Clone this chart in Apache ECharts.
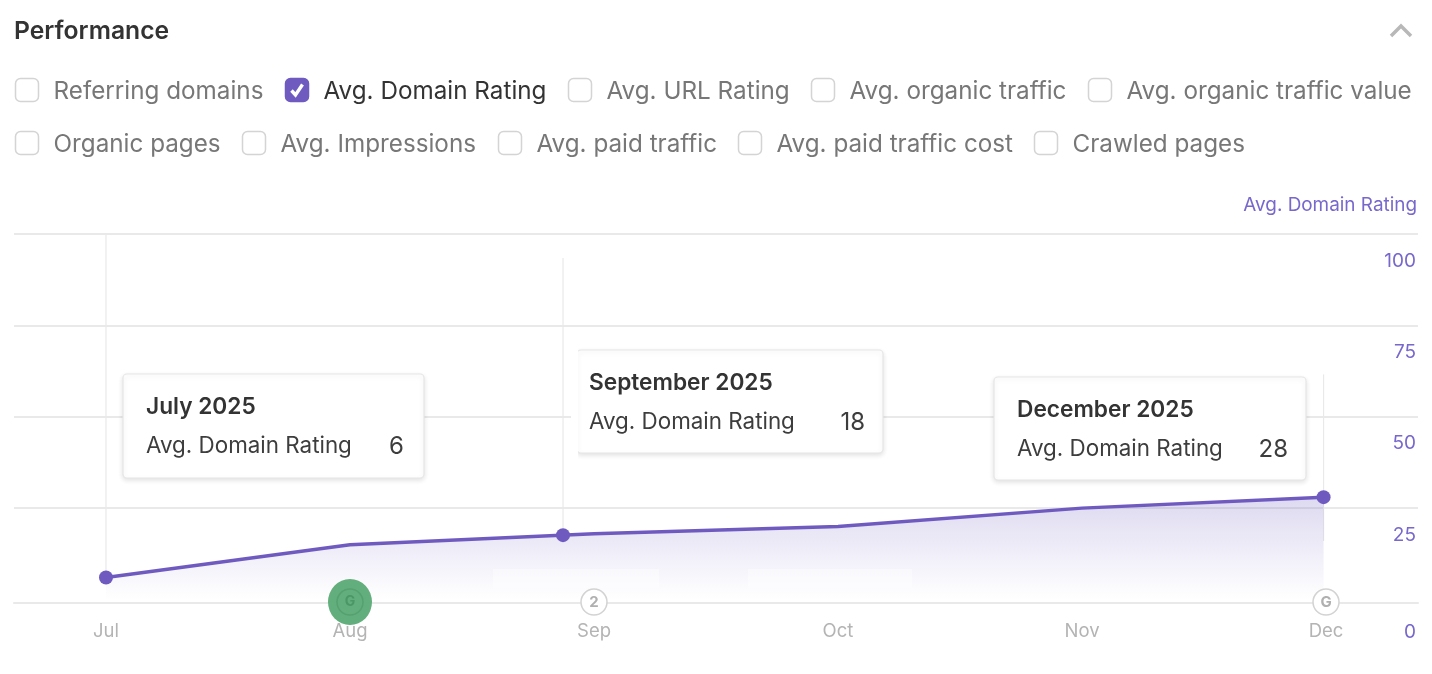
<!DOCTYPE html>
<html><head><meta charset="utf-8">
<style>html,body{margin:0;padding:0;background:#fff}#c{width:1432px;height:674px}</style>
<script src="https://cdn.jsdelivr.net/npm/echarts@6/dist/echarts.min.js"></script>
</head><body><div id="c"></div>
<script>
const months = ['Jul','Aug','Sep','Oct','Nov','Dec'];
const monthPos = [0,1,2,3,4,4.99];
const rating = [6,15,18,20,25,28];
const yTicks = [0,25,50,75,100];
const pinX = [0,1.873,4.99];
const pinY = [6,17.6,28];
const pinTop = [100,93.4,61.6];
const pinBottom = [6,17.6,16];
const cardTitles = ['July 2025','September 2025','December 2025'];
const cardValues = ['6','18','28'];
const eventX = [1,2,5];
const eventText = ['G','2','G'];
const filtersRow1 = ['Referring domains','Avg. Domain Rating','Avg. URL Rating','Avg. organic traffic','Avg. organic traffic value'];
const filtersRow2 = ['Organic pages','Avg. Impressions','Avg. paid traffic','Avg. paid traffic cost','Crawled pages'];
const checked = 'Avg. Domain Rating';
const metric = 'Avg. Domain Rating';

const PURPLE='#6f5bc0', LABEL='#7768cc', FONT='Inter', GRID='#e9e9e9';
const boxX1=[15,285,568,811,1088], boxX2=[15,242,498,738,1034];
const cardBox=[[123,374,301,104],[577,350,306,103],[994,377,312,103]];
const g=[];
function txt(x,y,t,o){return {type:'text',z:50,x,y,style:Object.assign({text:t,fill:'#333',font:'400 23px '+FONT,textVerticalAlign:'middle'},o||{})};}
function row(names,xs,cy){names.forEach((n,i)=>{
  const on=n===checked;
  g.push({type:'rect',z:50,shape:{x:xs[i]+.5,y:cy-11.5,width:23,height:23,r:5},style:{fill:on?PURPLE:'#fff',stroke:on?PURPLE:'#d4d4d4',lineWidth:1.5}});
  if(on)g.push({type:'polyline',z:51,shape:{points:[[xs[i]+6.5,cy+.5],[xs[i]+10.5,cy+5],[xs[i]+17.5,cy-5.5]]},style:{stroke:'#fff',lineWidth:3.4,fill:null}});
  g.push(txt(xs[i]+38.5,cy+1.5,n,{font:'400 24.25px '+FONT,fill:on?'#333':'#777'}));
});}
g.push(txt(14,31.5,'Performance',{font:'600 24.7px '+FONT,fill:'#333'}));
g.push({type:'polyline',z:50,shape:{points:[[1391,36],[1401,26],[1411,36]]},style:{stroke:'#b8b8b8',lineWidth:3.5,fill:null}});
row(filtersRow1,boxX1,90);row(filtersRow2,boxX2,143);
g.push(txt(1417,205,metric,{font:'400 18.9px '+FONT,fill:LABEL,textAlign:'right'}));
cardBox.forEach((b,i)=>{
  g.push({type:'rect',z:40,shape:{x:b[0],y:b[1],width:b[2],height:b[3],r:4},style:{fill:'#fff',stroke:'#e6e6e6',lineWidth:1.2,shadowBlur:5,shadowColor:'rgba(0,0,0,.11)',shadowOffsetY:2}});
  g.push(txt(b[0]+(i==1?12:23),b[1]+33.5,cardTitles[i],{font:'600 22.7px '+FONT,fill:'#333'}));
  g.push(txt(b[0]+(i==1?12:23),b[1]+72.5,metric,{font:'400 22.4px '+FONT,fill:'#3d3d3d'}));
  g.push(txt(b[0]+b[2]-(i==0?20:18),b[1]+72.5,cardValues[i],{font:'400 24px '+FONT,fill:'#3d3d3d',textAlign:'right'}));
});
// the September card has no visible left edge
g.push({type:'rect',z:41,shape:{x:571,y:346,width:7,height:112},style:{fill:'#fff'}});
// faint washed-out patches over the area
[[493,569,166,19],[748,569,164,19]].forEach(r=>g.push({type:'rect',z:30,shape:{x:r[0],y:r[1],width:r[2],height:r[3]},style:{fill:'rgba(255,255,255,.4)'}}));

const pinLines = pinX.map((x,i)=>({type:'line',name:'pin'+i,z:1,silent:true,symbol:'none',clip:false,
  data:[[x,pinTop[i]],[x,pinBottom[i]]],lineStyle:{color:GRID,width:1.2}}));

const baseX={type:'value',min:-0.377,max:5.377,offset:3.5};
const chart=echarts.init(document.getElementById('c'),null,{renderer:'canvas'});
chart.setOption({
  animation:false,backgroundColor:'#fff',
  textStyle:{fontFamily:FONT},
  grid:{left:14,right:14,top:234,height:365.5,containLabel:false},
  xAxis:[
    Object.assign({},baseX,{z:1,axisLine:{show:true,onZero:false,lineStyle:{color:GRID,width:2}},axisTick:{show:false},splitLine:{show:false},axisLabel:{show:false}}),
    Object.assign({},baseX,{position:'bottom',z:5,axisLine:{show:false,onZero:false},axisTick:{show:false},splitLine:{show:false},
      axisLabel:{customValues:[0,1,2,3,4,5],formatter:v=>months[Math.round(v)],color:'#b4b4b4',fontSize:18.5,fontFamily:FONT,margin:18.5}})
  ],
  yAxis:{type:'value',min:0,max:100,interval:25,position:'right',
    axisLine:{show:false},axisTick:{show:false},
    splitLine:{show:true,showMinLine:false,lineStyle:{color:GRID,width:2}},
    axisLabel:{inside:true,margin:2,color:LABEL,fontSize:19,fontFamily:FONT,padding:[54,0,0,0],
      formatter:v=>v===0?'{z|0}':String(v),rich:{z:{color:LABEL,fontSize:19,fontFamily:FONT,padding:[11,0,0,2]}}}},
  graphic:{elements:g},
  series:[
    ...pinLines,
    {type:'line',name:metric,z:3,symbol:'none',clip:false,data:monthPos.map((x,i)=>[x,rating[i]]),
      lineStyle:{color:PURPLE,width:3.5},
      areaStyle:{color:new echarts.graphic.LinearGradient(0,0,0,1,[{offset:0,color:'rgba(111,91,192,.33)'},{offset:1,color:'rgba(111,91,192,0)'}])}},
    {type:'scatter',name:'pins',z:4,symbol:'circle',symbolSize:14,clip:false,data:pinX.map((x,i)=>[x,pinY[i]]),itemStyle:{color:PURPLE,opacity:1}},
    {type:'scatter',name:'events',z:4,symbol:'circle',clip:false,
      data:eventX.map((x,i)=>({value:[x,-0.7],
        symbolSize:i===0?[44,46]:26,
        itemStyle:i===0?{color:'#62ae7c',opacity:1}:{color:'#fff',borderColor:'#d3d3d3',borderWidth:1.5,opacity:1},
        label:{show:true,position:'inside',formatter:eventText[i],fontFamily:FONT,fontWeight:700,fontSize:i===0?14:15,color:i===0?'#4c9767':'#b0b0b0'}}))},
    {type:'scatter',name:'eventRing',z:4,symbol:'circle',symbolSize:26,clip:false,silent:true,data:[[eventX[0],-0.7]],
      itemStyle:{color:'rgba(0,0,0,0)',borderColor:'#57a070',borderWidth:1.5,opacity:1}}
  ]
});
</script></body></html>
